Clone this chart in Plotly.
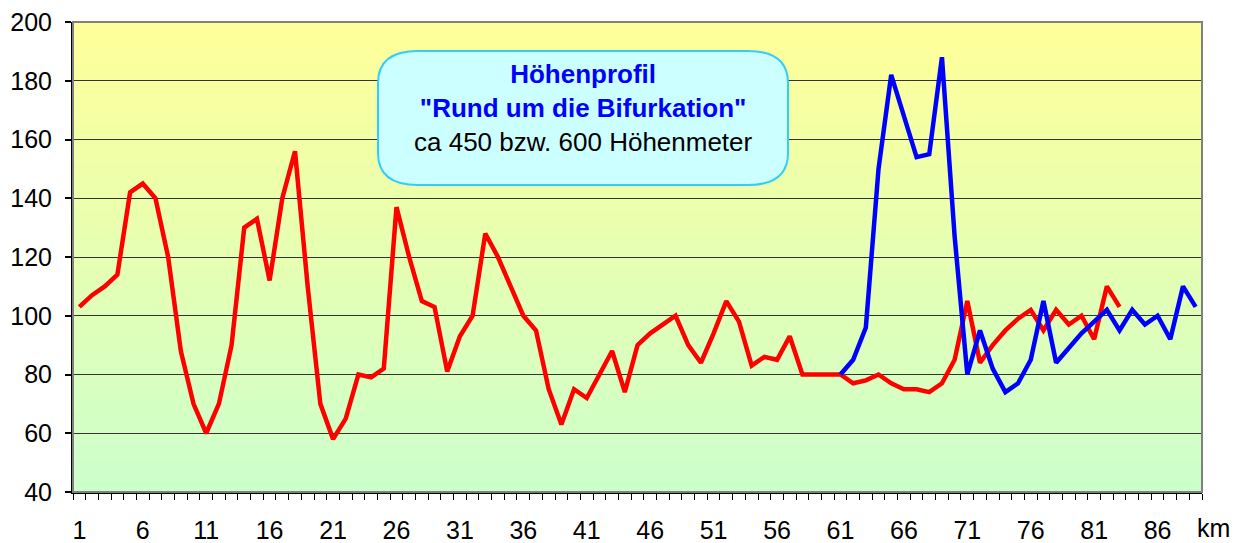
import plotly.graph_objects as go

# ---------------- data ----------------
km = list(range(1, 90))  # categories 1..89
red_vals = [103, 107, 110, 114, 142, 145, 140, 120, 88, 70,
            60, 70, 90, 130, 133, 112, 140, 156, 110, 70,
            58, 65, 80, 79, 82, 137, 120, 105, 103, 81,
            93, 100, 128, 120, 110, 100, 95, 75, 63, 75,
            72, 80, 88, 74, 90, 94, 97, 100, 90, 84,
            94, 105, 98, 83, 86, 85, 93, 80, 80, 80,
            80, 77, 78, 80, 77, 75, 75, 74, 77, 85,
            105, 84, 90, 95, 99, 102, 95, 102, 97, 100,
            92, 110, 103]
blue_start = 61
blue_vals = [80, 85, 96, 150, 182, 168, 154, 155, 188, 127,
             80, 95, 82, 74, 77, 85, 105, 84, 89, 94,
             98, 102, 95, 102, 97, 100, 92, 110, 103]
x_labels = [1, 6, 11, 16, 21, 26, 31, 36, 41, 46, 51, 56, 61, 66, 71, 76, 81, 86]
y_ticks = [40, 60, 80, 100, 120, 140, 160, 180, 200]

title1 = "Höhenprofil"
title2 = "\"Rund um die Bifurkation\""
title3 = "ca 450 bzw. 600 Höhenmeter"
unit_label = "km"

FONT = "Arial, Liberation Sans, sans-serif"

# ---------------- layout geometry (pixels) ----------------
W, H = 1243, 543
OFF = 8  # page body margin
# plot area in window pixels
X0, X1, Y0, Y1 = 73, 1202, 22, 492
L, T = X0 - OFF, Y0 - OFF
R, B = W - (X1 - OFF), H - (Y1 - OFF)


def px2paper(px, py):
    return (px - X0) / (X1 - X0), (Y1 - py) / (Y1 - Y0)


fig = go.Figure()

fig.add_trace(go.Scatter(
    x=km[:len(red_vals)], y=red_vals, mode="lines",
    line=dict(color="#FF0000", width=4.5), name="Route 1", hoverinfo="x+y"))
fig.add_trace(go.Scatter(
    x=km[blue_start - 1:blue_start - 1 + len(blue_vals)], y=blue_vals, mode="lines",
    line=dict(color="#0000FF", width=4.5), name="Route 2", hoverinfo="x+y"))

# gradient background (yellow top -> light green bottom)
shapes = []
N = 90
top_c = (255, 255, 153)
bot_c = (204, 255, 204)
for i in range(N):
    f = (i + 0.5) / N  # 0 bottom -> 1 top
    c = tuple(round(bot_c[k] + (top_c[k] - bot_c[k]) * f) for k in range(3))
    shapes.append(dict(type="rect", xref="x domain", yref="y domain",
                       x0=0, x1=1, y0=i / N, y1=(i + 1) / N + 0.002,
                       fillcolor="rgb(%d,%d,%d)" % c, line=dict(width=0),
                       layer="below"))

# gray plot-area border (top/right)
shapes.append(dict(type="rect", xref="paper", yref="paper", x0=0, x1=1, y0=0, y1=1,
                   line=dict(color="#808080", width=2), fillcolor="rgba(0,0,0,0)",
                   layer="above"))

# rounded info box
bx0, bx1, by0, by1 = 378, 788, 51, 185
rx, ry = 40, 32


def P(px, py):
    a, b = px2paper(px, py)
    return "%.5f,%.5f" % (a, b)


path = ("M " + P(bx0 + rx, by0) + " L " + P(bx1 - rx, by0) +
        " Q " + P(bx1, by0) + " " + P(bx1, by0 + ry) +
        " L " + P(bx1, by1 - ry) +
        " Q " + P(bx1, by1) + " " + P(bx1 - rx, by1) +
        " L " + P(bx0 + rx, by1) +
        " Q " + P(bx0, by1) + " " + P(bx0, by1 - ry) +
        " L " + P(bx0, by0 + ry) +
        " Q " + P(bx0, by0) + " " + P(bx0 + rx, by0) + " Z")
shapes.append(dict(type="path", xref="paper", yref="paper", path=path,
                   fillcolor="#CCFFFF", line=dict(color="#33CCFF", width=2),
                   layer="above"))

ax_, ay_ = px2paper((bx0 + bx1) / 2, 108)
km_x, km_y = px2paper(1213, 528)

annotations = [
    dict(xref="paper", yref="paper", x=ax_, y=ay_, xanchor="center", yanchor="middle",
         showarrow=False, align="center",
         text="<b><span style='color:#0000FF'>" + title1 + "</span></b><br>"
              "<b><span style='color:#0000FF'>" + title2 + "</span></b><br>"
              "<span style='color:#000000'>" + title3 + "</span>",
         font=dict(family=FONT, size=26, color="#000000")),
    dict(xref="paper", yref="paper", x=km_x, y=km_y, xanchor="center", yanchor="middle",
         showarrow=False, text=unit_label,
         font=dict(family=FONT, size=25, color="#000000")),
]

fig.update_layout(
    width=W, height=H,
    margin=dict(l=L, r=R, t=T, b=B, pad=0, autoexpand=False),
    paper_bgcolor="white", plot_bgcolor="white",
    showlegend=False,
    shapes=shapes, annotations=annotations,
    font=dict(family=FONT, size=25, color="#000000"),
    xaxis=dict(
        automargin=False,
        range=[km[0] - 0.5, km[-1] + 0.5],
        tickmode="array", tickvals=x_labels, ticktext=[str(v) for v in x_labels],
        ticks="outside", ticklen=15, tickcolor="rgba(0,0,0,0)",
        ticklabeloverflow="allow",
        showgrid=False, zeroline=False,
        showline=True, linecolor="#000000", linewidth=2,
        tickfont=dict(family=FONT, size=25, color="#000000"),
        minor=dict(tickmode="linear", tick0=0.5, dtick=1, ticks="outside", ticklen=6,
                   tickcolor="#000000", tickwidth=1, showgrid=False),
    ),
    yaxis=dict(
        automargin=False,
        range=[y_ticks[0], y_ticks[-1]],
        tickmode="array", tickvals=y_ticks,
        ticks="outside", ticklen=6, tickcolor="#000000", tickwidth=2,
        ticklabeloverflow="allow",
        showgrid=True, gridcolor="#333333", gridwidth=1,
        zeroline=False,
        showline=True, linecolor="#000000", linewidth=2,
        tickfont=dict(family=FONT, size=25, color="#000000"),
        ticklabelstandoff=8,
    ),
)

fig.write_html("out.html")
